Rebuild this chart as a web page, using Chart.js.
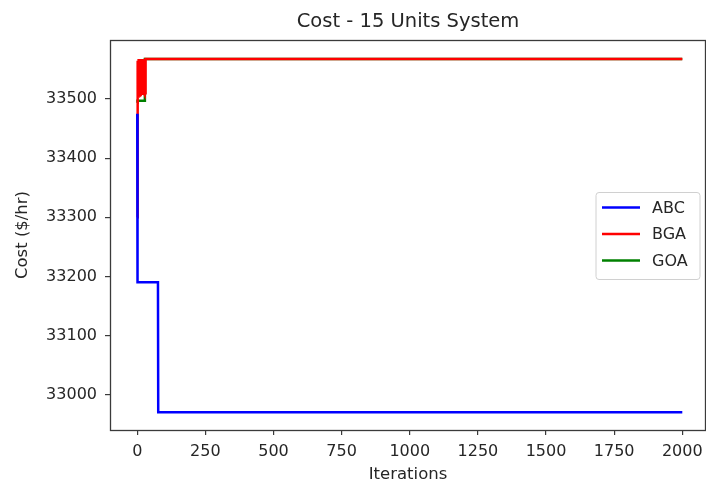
<!DOCTYPE html>
<html>
<head>
<meta charset="utf-8">
<script src="https://cdn.jsdelivr.net/npm/chart.js@4/dist/chart.umd.min.js"></script>
<style>
  html, body { margin: 0; padding: 0; background: #ffffff; }
  canvas { display: block; }
</style>
</head>
<body>
<canvas id="chart" width="706" height="487"></canvas>
<script>
// Chart text
const chartTitle = 'Cost - 15 Units System';
const xAxisTitle = 'Iterations';
const yAxisTitle = 'Cost ($/hr)';

// Tick labels
const xTickValues = [0, 250, 500, 750, 1000, 1250, 1500, 1750, 2000];
const yTickValues = [33000, 33100, 33200, 33300, 33400, 33500];

// Series
const seriesNames = ['ABC', 'BGA', 'GOA'];
const seriesColors = ['#0000ff', '#ff0000', '#008000'];

// ABC: best cost at the iterations where it changes
const abcIter = [0, 1, 76, 77, 2000];
const abcCost = [33475, 33190, 33190, 32970, 32970];

// BGA: early oscillation, then flat
const bgaIter = [0, 1, 2, 3, 4, 5, 6, 7, 8, 9, 10, 11, 12, 13, 14, 15, 16, 17, 18, 19, 20,
                 21, 22, 23, 24, 25, 26, 27, 28, 29, 30, 31, 2000];
const bgaCost = [33300, 33506, 33565, 33508, 33568, 33507, 33562, 33509, 33568, 33508, 33566, 33507,
                 33568, 33509, 33568, 33508, 33567, 33510, 33568, 33507, 33568, 33509, 33568, 33508,
                 33567, 33510, 33568, 33508, 33568, 33510, 33568, 33568, 33568];

// GOA
const goaIter = [0, 1, 27, 28, 2000];
const goaCost = [33494, 33497, 33497, 33568, 33568];

const toPoints = (xs, ys) => xs.map((x, i) => ({ x: x, y: ys[i] }));
const seriesData = [toPoints(abcIter, abcCost), toPoints(bgaIter, bgaCost), toPoints(goaIter, goaCost)];

const FONT = 'DejaVu Sans';
const TEXT = '#262626';
const AXIS = '#3a3a3a';

// Frame, title and legend drawn on top of the chart area
const decorations = {
  id: 'decorations',
  afterDraw(chart) {
    const ctx = chart.ctx;
    const a = chart.chartArea;
    ctx.save();

    // axes frame
    ctx.strokeStyle = AXIS;
    ctx.lineWidth = 1.3;
    ctx.strokeRect(a.left + 0.5, a.top + 0.5, a.right - a.left - 1, a.bottom - a.top);

    // title
    ctx.fillStyle = TEXT;
    ctx.font = '19.5px "' + FONT + '"';
    ctx.textAlign = 'center';
    ctx.textBaseline = 'middle';
    ctx.fillText(chartTitle, (a.left + a.right) / 2, 22);

    // legend
    const boxW = 104, rowH = 26.5, boxH = 87;
    const bx = a.right - 6 - boxW;
    const by = (a.top + a.bottom) / 2 - boxH / 2 + 1;
    ctx.beginPath();
    const r = 3;
    ctx.moveTo(bx + r, by);
    ctx.arcTo(bx + boxW, by, bx + boxW, by + boxH, r);
    ctx.arcTo(bx + boxW, by + boxH, bx, by + boxH, r);
    ctx.arcTo(bx, by + boxH, bx, by, r);
    ctx.arcTo(bx, by, bx + boxW, by, r);
    ctx.closePath();
    ctx.fillStyle = 'rgba(255,255,255,0.85)';
    ctx.fill();
    ctx.strokeStyle = '#d0d0d0';
    ctx.lineWidth = 1;
    ctx.stroke();

    ctx.font = '16px "' + FONT + '"';
    ctx.textAlign = 'left';
    ctx.textBaseline = 'middle';
    chart.data.datasets.forEach((ds, i) => {
      const y = by + 15 + i * rowH;
      ctx.strokeStyle = ds.borderColor;
      ctx.lineWidth = 2.5;
      ctx.beginPath();
      ctx.moveTo(bx + 6, y);
      ctx.lineTo(bx + 44, y);
      ctx.stroke();
      ctx.fillStyle = TEXT;
      ctx.fillText(ds.label, bx + 56, y + 1);
    });
    ctx.restore();
  }
};

new Chart(document.getElementById('chart'), {
  type: 'line',
  data: {
    datasets: seriesNames.map((name, i) => ({
      label: name,
      data: seriesData[i],
      borderColor: seriesColors[i],
      backgroundColor: seriesColors[i],
      borderWidth: 2.5,
      pointRadius: 0,
      tension: 0,
      fill: false
    }))
  },
  options: {
    responsive: false,
    animation: false,
    devicePixelRatio: 1,
    layout: { padding: { top: 40, right: 0, bottom: 0, left: 0 } },
    plugins: {
      legend: { display: false },
      title: { display: false },
      tooltip: { enabled: false }
    },
    scales: {
      x: {
        type: 'linear',
        min: -100,
        max: 2087,
        afterBuildTicks: s => { s.ticks = xTickValues.map(v => ({ value: v })); },
        afterFit: s => { s.height = 57; s.paddingLeft = 0; s.paddingRight = 0; },
        grid: { display: true, drawOnChartArea: false, drawTicks: true, tickLength: 5, color: AXIS, lineWidth: 1.2 },
        border: { display: false },
        ticks: {
          autoSkip: false, maxRotation: 0, padding: 7,
          color: TEXT, font: { family: FONT, size: 16 },
          callback: v => String(v)
        },
        title: {
          display: true, text: xAxisTitle, color: TEXT,
          font: { family: FONT, size: 16.5 }, padding: { top: 0, bottom: 2 }
        }
      },
      y: {
        type: 'linear',
        min: 32940,
        max: 33600,
        afterBuildTicks: s => { s.ticks = yTickValues.map(v => ({ value: v })); },
        afterFit: s => { s.width = 110; s.paddingTop = 0; s.paddingBottom = 0; },
        grid: { display: true, drawOnChartArea: false, drawTicks: true, tickLength: 5, color: AXIS, lineWidth: 1.2 },
        border: { display: false },
        ticks: {
          autoSkip: false, padding: 8,
          color: TEXT, font: { family: FONT, size: 16 },
          callback: v => String(v)
        },
        title: {
          display: true, text: yAxisTitle, color: TEXT,
          font: { family: FONT, size: 16.5 }, padding: { top: 13, bottom: 0 }
        }
      }
    }
  },
  plugins: [decorations]
});
</script>
</body>
</html>
